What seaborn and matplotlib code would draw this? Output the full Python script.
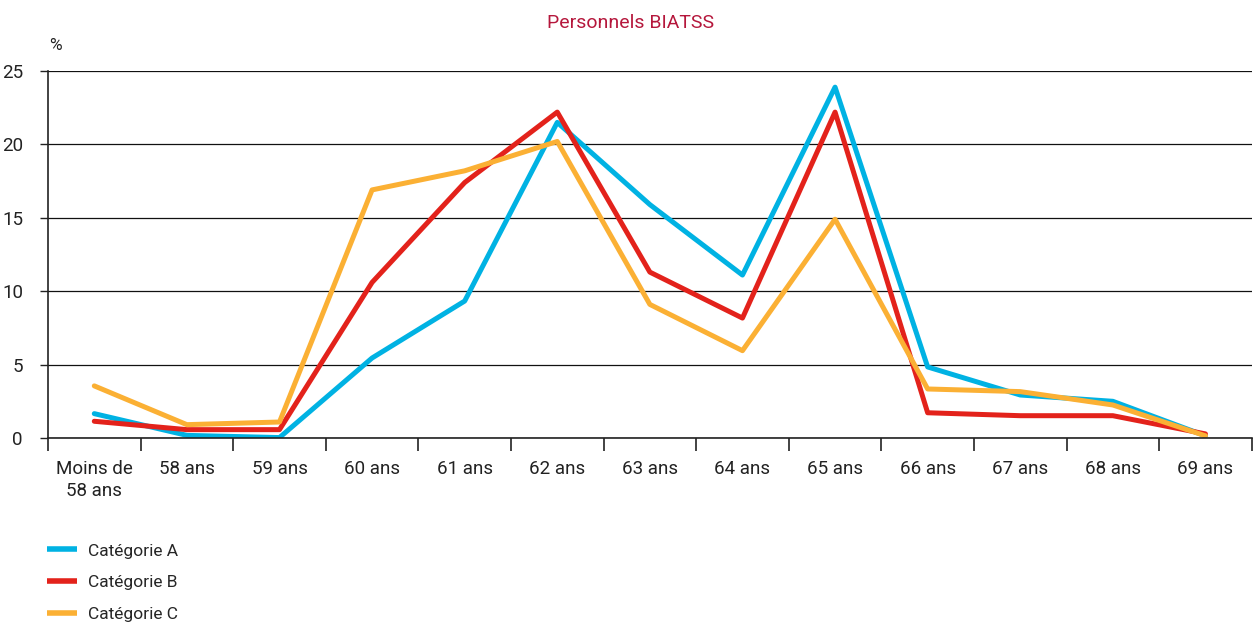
import numpy as np
import pandas as pd
import matplotlib
matplotlib.use("Agg")
import matplotlib.pyplot as plt
import seaborn as sns
from matplotlib.ticker import FixedLocator, NullFormatter

categories = ["Moins de\n58 ans", "58 ans", "59 ans", "60 ans", "61 ans", "62 ans", "63 ans",
              "64 ans", "65 ans", "66 ans", "67 ans", "68 ans", "69 ans"]
cat_a = [1.66, 0.18, 0.03, 5.45, 9.33, 21.5, 15.9, 11.1, 23.9, 4.84, 2.93, 2.5, 0.15]
cat_b = [1.14, 0.57, 0.57, 10.6, 17.4, 22.2, 11.3, 8.17, 22.2, 1.72, 1.52, 1.52, 0.28]
cat_c = [3.55, 0.91, 1.09, 16.9, 18.2, 20.2, 9.1, 5.95, 14.9, 3.34, 3.16, 2.25, 0.15]
series_names = ["Catégorie A", "Catégorie B", "Catégorie C"]
colors = ["#00B2E3", "#E3221B", "#FBB034"]
yticks = [0, 5, 10, 15, 20, 25]

sns.set_theme(style="white")
plt.rcParams['font.family'] = ['Roboto', 'DejaVu Sans']

# long format pour seaborn
rows = []
for name, vals in zip(series_names, [cat_a, cat_b, cat_c]):
    for i, v in enumerate(vals):
        rows.append({"pos": i, "val": v, "serie": name})
df = pd.DataFrame(rows)

fig = plt.figure(figsize=(12.53, 6.26), dpi=100)
ax = fig.add_axes([0.0383, 0.3003, 0.9607, 0.5863])

sns.lineplot(data=df, x="pos", y="val", hue="serie", palette=colors, linewidth=3.6,
             ax=ax, legend=False, sort=False)

n = len(categories)
ax.set_xlim(-0.5, n - 0.5)
ax.set_ylim(0, 25)
ax.set_xlabel("")
ax.set_ylabel("")

# x : ticks sur les bords, labels au centre
ax.xaxis.set_major_locator(FixedLocator(np.arange(-0.5, n, 1.0)))
ax.xaxis.set_major_formatter(NullFormatter())
ax.xaxis.set_minor_locator(FixedLocator(np.arange(n)))
ax.set_xticklabels(categories, minor=True, fontsize=13.5, color="#222222", linespacing=1.3)
ax.tick_params(axis="x", which="major", direction="out", length=9, width=1.2, color="#222222", bottom=True)
ax.tick_params(axis="x", which="minor", length=0, pad=16)

ax.set_yticks(yticks)
ax.set_yticklabels([str(t) for t in yticks], fontsize=13.5, color="#222222")
ax.tick_params(axis="y", direction="out", length=6, width=1, color="#222222", left=True, pad=12)
ax.grid(axis="y", color="#111111", linewidth=0.9)
ax.grid(axis="x", visible=False)
ax.set_axisbelow(True)

for s in ["top", "right"]:
    ax.spines[s].set_visible(False)
for s in ["left", "bottom"]:
    ax.spines[s].set_visible(True)
    ax.spines[s].set_color("#222222")
    ax.spines[s].set_linewidth(1.2)

fig.text(0.503, 0.964, "Personnels BIATSS", ha="center", va="center", fontsize=14,
         color="#B5173C")
fig.text(0.039, 0.928, "%", ha="left", va="center", fontsize=12.5, color="#222222")

handles = [plt.Line2D([], [], color=c, linewidth=4, solid_capstyle="butt") for c in colors]
fig.legend(handles, series_names, loc="upper left", bbox_to_anchor=(0.0375, 0.132),
           frameon=False, fontsize=12.5, handlelength=1.75, handletextpad=0.6,
           labelspacing=0.95, borderaxespad=0, borderpad=0)

fig.savefig("out.png", dpi=100)
